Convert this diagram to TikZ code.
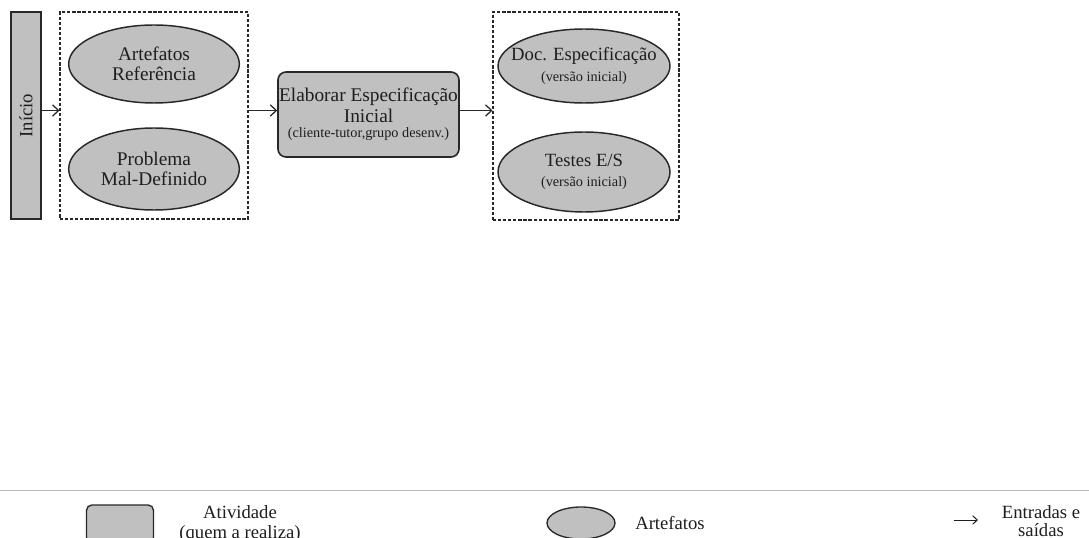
\documentclass[tikz,border=0pt]{standalone}
\usepackage{fontspec}
\setmainfont{Liberation Serif}
\usetikzlibrary{shapes.geometric,arrows.meta}
\definecolor{fillg}{RGB}{192,192,192}
\definecolor{edgec}{RGB}{40,40,40}
\definecolor{txtc}{RGB}{30,30,30}
\definecolor{rulec}{RGB}{185,185,185}
\begin{document}
\begin{tikzpicture}[x=0.75pt,y=-0.75pt,
  artefato/.style={ellipse,draw=edgec,fill=fillg,line width=1.1pt,inner sep=0pt},
  atividade/.style={rectangle,rounded corners=6pt,draw=edgec,fill=fillg,line width=1.2pt,inner sep=0pt,align=center,text=txtc},
  grupo/.style={rectangle,draw=edgec,line width=0.8pt,dash pattern=on 2.4pt off 1.4pt,inner sep=0pt},
  fluxo/.style={draw=edgec,line width=0.95pt,-{Straight Barb[length=4.5pt,width=8.5pt]}},
  bigtxt/.style={font=\fontsize{14.5}{14.8}\selectfont,text=txtc,align=center},
  legtxt/.style={font=\fontsize{14}{13.5}\selectfont,text=txtc,align=center,inner sep=0pt}
]
\clip (0,0) rectangle (1089,538);
\fill[white] (0,0) rectangle (1089,538);

% start bar
\node[atividade,rounded corners=0pt,rotate=90,minimum width=155.25pt,minimum height=22.5pt,
      font=\fontsize{14}{14}\selectfont] (inicio) at (26,115.5) {Início};

% input group
\node[grupo,minimum width=141pt,minimum height=155.25pt] (g1) at (154,115.5) {};
\node[artefato,minimum width=128pt,minimum height=58.5pt,
      label={[bigtxt]center:Artefatos\\Referência}] (artref) at (154,64) {};
\node[artefato,minimum width=128pt,minimum height=61.5pt,
      label={[bigtxt]center:Problema\\Mal-Definido}] (prob) at (154,169) {};

% activity
\node[atividade,minimum width=135.75pt,minimum height=63.75pt,
      font=\fontsize{14.5}{15.75}\selectfont] (elab) at (368.5,114.5)
  {Elaborar Especificação\\Inicial\\[-4.5pt]{\fontsize{10.7}{12}\selectfont (cliente-tutor,grupo desenv.)}};

% output group
\node[grupo,minimum width=139.5pt,minimum height=156pt] (g2) at (586,116) {};
\node[artefato,minimum width=129pt,minimum height=55.5pt,
      label={[bigtxt,font=\fontsize{14}{14.8}\selectfont]center:Doc. Especificação\\[1pt]{\fontsize{10.7}{12}\selectfont (versão inicial)}}] (doc) at (584,66) {};
\node[artefato,minimum width=129pt,minimum height=60pt,
      label={[bigtxt,font=\fontsize{14}{14.8}\selectfont]center:Testes E/S\\[0pt]{\fontsize{10.7}{12}\selectfont (versão inicial)}}] (testes) at (584,172) {};

% flow arrows
\coordinate (ay) at (0,110.5);
\draw[fluxo] (inicio.south |- ay) -- (g1.west |- ay);
\draw[fluxo] (g1.east |- ay) -- (elab.west |- ay);
\draw[fluxo] (elab.east |- ay) -- (g2.west |- ay);

% legend
\coordinate (ruleL) at (0,490);
\coordinate (ruleR) at (1089,490);
\draw[rulec,line width=0.75pt] (ruleL) -- (ruleR);

\node[atividade,rounded corners=4pt,line width=1pt,minimum width=50.25pt,minimum height=28.5pt] (legact) at (120,524) {};
\node[legtxt,font=\fontsize{14}{14.5}\selectfont] (legacttxt) at (240,524) {Atividade\\(quem a realiza)};

\node[artefato,line width=1pt,minimum width=51pt,minimum height=24pt] (legart) at (581,523) {};
\node[legtxt] (legarttxt) at (670,523.5) {Artefatos};

\coordinate (la1) at (954,520);
\coordinate (la2) at (978,520);
\draw[draw=txtc,line width=0.75pt,-{Straight Barb[length=3.5pt,width=6.5pt]}] (la1) -- (la2);
\node[legtxt] (legio) at (1041,521.5) {Entradas e\\saídas};
\end{tikzpicture}
\end{document}
